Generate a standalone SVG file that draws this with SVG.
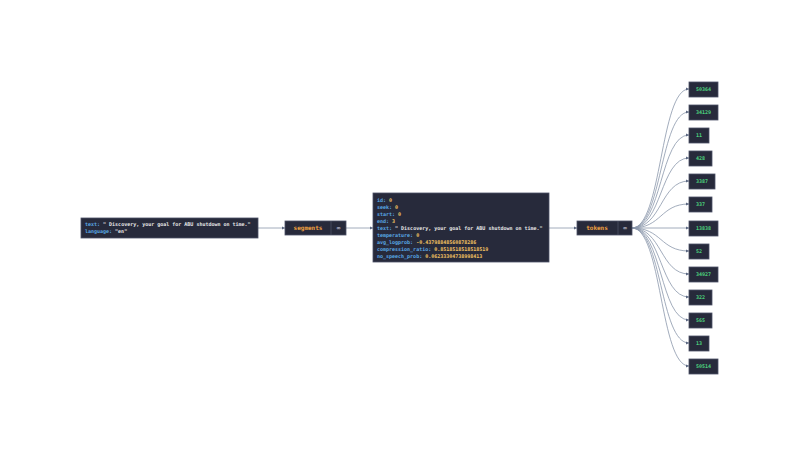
<svg xmlns="http://www.w3.org/2000/svg" width="800" height="456" viewBox="0 0 800 456">
<style>
.n{fill:#272a3b;stroke:#4b5066;stroke-width:0.8}
.t{font-family:"DejaVu Sans Mono",monospace;font-size:5px;font-weight:bold}
.k{fill:#5aa9e6}.v{fill:#f0c060}.s{fill:#e8e8e8}.o{fill:#f0a040;font-size:6px}.g{fill:#4cd07d;text-anchor:middle}
.e{fill:none;stroke:#8a97ab;stroke-width:0.8}
.ic{fill:#aab;font-size:6px}
</style>
<defs><marker id="a" viewBox="0 0 6 6" refX="6" refY="3" markerWidth="4" markerHeight="4" orient="auto"><path d="M0,0L6,3L0,6z" fill="#5a6680"/></marker></defs>
<rect width="800" height="456" fill="#fff"/>
<g id="connectors">
<path class="e" marker-end="url(#a)" d="M258,228H285"/>
<path class="e" marker-end="url(#a)" d="M346,228H373"/>
<path class="e" marker-end="url(#a)" d="M549,228H577"/>
<path class="e" marker-end="url(#a)" d="M632,228C662,228 660,89 689,89"/>
<path class="e" marker-end="url(#a)" d="M632,228C662,228 660,112 689,112"/>
<path class="e" marker-end="url(#a)" d="M632,228C662,228 660,135 689,135"/>
<path class="e" marker-end="url(#a)" d="M632,228C662,228 660,158 689,158"/>
<path class="e" marker-end="url(#a)" d="M632,228C662,228 660,181 689,181"/>
<path class="e" marker-end="url(#a)" d="M632,228C662,228 660,204 689,204"/>
<path class="e" marker-end="url(#a)" d="M632,228H689"/>
<path class="e" marker-end="url(#a)" d="M632,228C662,228 660,251 689,251"/>
<path class="e" marker-end="url(#a)" d="M632,228C662,228 660,274 689,274"/>
<path class="e" marker-end="url(#a)" d="M632,228C662,228 660,297 689,297"/>
<path class="e" marker-end="url(#a)" d="M632,228C662,228 660,320 689,320"/>
<path class="e" marker-end="url(#a)" d="M632,228C662,228 660,343 689,343"/>
<path class="e" marker-end="url(#a)" d="M632,228C662,228 660,366 689,366"/>
</g>
<g id="input"><rect class="n" x="81" y="218" width="177" height="20"/>
<text class="t" x="85" y="226"><tspan class="k">text:</tspan><tspan class="s"> " Discovery, your goal for ABU shutdown on time."</tspan></text>
<text class="t" x="85" y="233"><tspan class="k">language:</tspan><tspan class="s"> "en"</tspan></text></g>
<g id="segments"><rect class="n" x="285" y="221" width="61" height="14"/><line x1="331" y1="221" x2="331" y2="235" stroke="#4b5066" stroke-width="0.8"/>
<text class="t o" x="308" y="230" text-anchor="middle">segments</text><text class="t ic" x="338.5" y="230" text-anchor="middle">∞</text></g>
<g id="segment"><rect class="n" x="373" y="193" width="176" height="69"/>
<text class="t" x="377" y="202"><tspan class="k">id:</tspan><tspan class="v"> 0</tspan></text>
<text class="t" x="377" y="209"><tspan class="k">seek:</tspan><tspan class="v"> 0</tspan></text>
<text class="t" x="377" y="216"><tspan class="k">start:</tspan><tspan class="v"> 0</tspan></text>
<text class="t" x="377" y="223"><tspan class="k">end:</tspan><tspan class="v"> 3</tspan></text>
<text class="t" x="377" y="230"><tspan class="k">text:</tspan><tspan class="s"> " Discovery, your goal for ABU shutdown on time."</tspan></text>
<text class="t" x="377" y="237"><tspan class="k">temperature:</tspan><tspan class="v"> 0</tspan></text>
<text class="t" x="377" y="244"><tspan class="k">avg_logprob:</tspan><tspan class="v"> -0.43798848560878286</tspan></text>
<text class="t" x="377" y="251"><tspan class="k">compression_ratio:</tspan><tspan class="v"> 0.8518518518518519</tspan></text>
<text class="t" x="377" y="258"><tspan class="k">no_speech_prob:</tspan><tspan class="v"> 0.06233304738998413</tspan></text></g>
<g id="tokens"><rect class="n" x="577" y="221" width="55" height="14"/><line x1="618" y1="221" x2="618" y2="235" stroke="#4b5066" stroke-width="0.8"/>
<text class="t o" x="597" y="230" text-anchor="middle">tokens</text><text class="t ic" x="625" y="230" text-anchor="middle">∞</text></g>
<g id="t0"><rect class="n" x="689" y="82" width="29" height="15"/><text class="t g" x="703.5" y="91">50364</text></g>
<g id="t1"><rect class="n" x="689" y="105" width="29" height="15"/><text class="t g" x="703.5" y="114">34129</text></g>
<g id="t2"><rect class="n" x="689" y="128" width="20" height="15"/><text class="t g" x="699" y="137">11</text></g>
<g id="t3"><rect class="n" x="689" y="151" width="23" height="15"/><text class="t g" x="700.5" y="160">428</text></g>
<g id="t4"><rect class="n" x="689" y="174" width="26" height="15"/><text class="t g" x="702" y="183">3387</text></g>
<g id="t5"><rect class="n" x="689" y="197" width="23" height="15"/><text class="t g" x="700.5" y="206">337</text></g>
<g id="t6"><rect class="n" x="689" y="221" width="29" height="15"/><text class="t g" x="703.5" y="230">13838</text></g>
<g id="t7"><rect class="n" x="689" y="244" width="20" height="15"/><text class="t g" x="699" y="253">52</text></g>
<g id="t8"><rect class="n" x="689" y="267" width="29" height="15"/><text class="t g" x="703.5" y="276">34927</text></g>
<g id="t9"><rect class="n" x="689" y="290" width="23" height="15"/><text class="t g" x="700.5" y="299">322</text></g>
<g id="t10"><rect class="n" x="689" y="313" width="23" height="15"/><text class="t g" x="700.5" y="322">565</text></g>
<g id="t11"><rect class="n" x="689" y="336" width="20" height="15"/><text class="t g" x="699" y="345">13</text></g>
<g id="t12"><rect class="n" x="689" y="359" width="29" height="15"/><text class="t g" x="703.5" y="368">50514</text></g>
</svg>
